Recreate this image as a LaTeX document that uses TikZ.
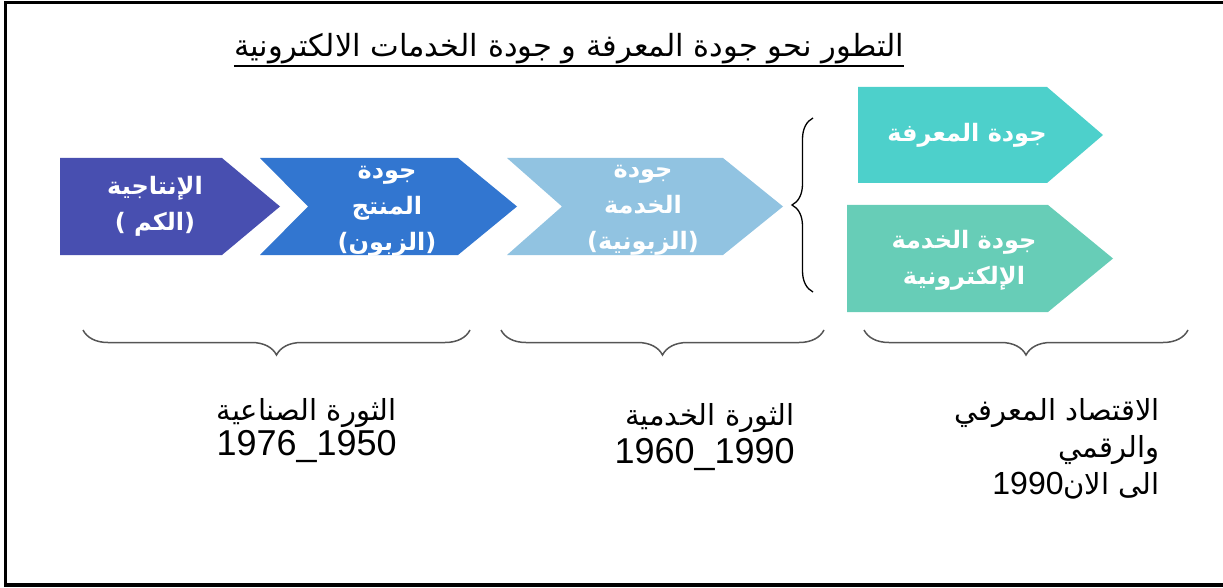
\documentclass[tikz,border=0pt]{standalone}
\usepackage{fontspec}
\setmainfont{Liberation Sans}
\newfontfamily\arabicfont[Script=Arabic]{DejaVu Sans}
\TeXXeTstate=1
\usetikzlibrary{decorations.pathreplacing}

\definecolor{chevpurple}{RGB}{72,79,176}
\definecolor{chevblue}{RGB}{50,118,208}
\definecolor{chevlight}{RGB}{145,195,225}
\definecolor{chevteal}{RGB}{77,208,203}
\definecolor{chevgreen}{RGB}{103,205,183}
\definecolor{bracegray}{RGB}{85,85,85}

\newcommand{\artxt}[1]{{\arabicfont\beginR #1\endR}}

\begin{document}
\begin{tikzpicture}[x=1pt, y=-1pt,
  % White bold text inside the chevrons
  chevtext/.style={text=white, align=center, inner sep=0pt,
                   font=\fontsize{24}{36}\selectfont\arabicfont\bfseries},
  % Era labels under the braces
  eratext/.style={anchor=east, inner sep=0pt, font=\fontsize{29}{32}\selectfont\arabicfont},
  yeartext/.style={anchor=east, inner sep=0pt, font=\fontsize{36}{40}\selectfont},
  % Braces
  hbrace/.style={decorate, decoration={brace, amplitude=25pt}, draw=bracegray, line width=1.5pt},
  vbrace/.style={decorate, decoration={brace, amplitude=21pt}, draw=black, line width=1.3pt}
]
  \useasboundingbox (0,0) rectangle (1223,588);

  % Frame (right side runs off the page)
  \draw[line width=3.5pt] (1240,2.5) -- (5.5,2.5) -- (5.5,585) -- (1240,585);

  % Title
  \node[inner sep=0pt, anchor=base, font=\fontsize{30.5}{34}\selectfont\arabicfont] (title) at (569,57)
    {\artxt{التطور نحو جودة المعرفة و جودة الخدمات الالكترونية}};
  \draw[line width=2pt] ([yshift=-9pt]title.base west) -- ([yshift=-9pt]title.base east);

  % --- Chevrons, left to right ---
  \fill[chevpurple] (60,158) -- (222,158) -- (280,206.5) -- (222,255) -- (60,255) -- cycle;
  \fill[chevblue]   (260,158) -- (458,158) -- (517,206.5) -- (458,255) -- (260,255) -- (308,206.5) -- cycle;
  \fill[chevlight]  (507,158) -- (723,158) -- (783,206.5) -- (723,255) -- (507,255) -- (562,206.5) -- cycle;

  % Right column
  \fill[chevteal]  (858,87) -- (1047,87) -- (1103,135) -- (1047,183) -- (858,183) -- cycle;
  \fill[chevgreen] (847,205) -- (1048,205) -- (1113,258.5) -- (1048,312) -- (847,312) -- cycle;

  % Chevron texts
  \node[chevtext] (prod)   at (155,206) {\artxt{الإنتاجية}\\\artxt{(الكم )}};
  \node[chevtext] (prodq)  at (387,211) {\artxt{جودة}\\\artxt{المنتج}\\\artxt{(الزبون)}};
  \node[chevtext] (servq)  at (643,210) {\artxt{جودة}\\\artxt{الخدمة}\\\artxt{(الزبونية)}};
  \node[chevtext] (knowq)  at (967,135) {\artxt{جودة المعرفة}};
  \node[chevtext] (eservq) at (964,260) {\artxt{جودة الخدمة}\\\artxt{الإلكترونية}};

  % Brace joining the two right chevrons
  \draw[vbrace] (813,292) -- (813,118);

  % Braces under the three eras
  \draw[hbrace] (470,330) -- (83,330);
  \draw[hbrace] (824,330) -- (501,330);
  \draw[hbrace] (1188,330) -- (864,330);

  % Era labels
  \node[eratext]  (indus)  at (397,413) {\artxt{الثورة الصناعية}};
  \node[yeartext] (indusy) at (397,447) {1976\_1950};
  \node[eratext]  (servr)  at (795,418) {\artxt{الثورة الخدمية}};
  \node[yeartext] (servy)  at (795,455) {1960\_1990};
  \node[eratext]  (econ)   at (1160,413) {\artxt{الاقتصاد المعرفي}};
  \node[eratext]  (econb)  at (1160,450) {\artxt{والرقمي}};
  \node[eratext, font=\fontsize{32}{36}\selectfont] (econy) at (1160,486)
    {\beginR{\arabicfont\fontsize{29}{32}\selectfont الى الان}\beginL 1990\endL\endR};

\end{tikzpicture}
\end{document}
